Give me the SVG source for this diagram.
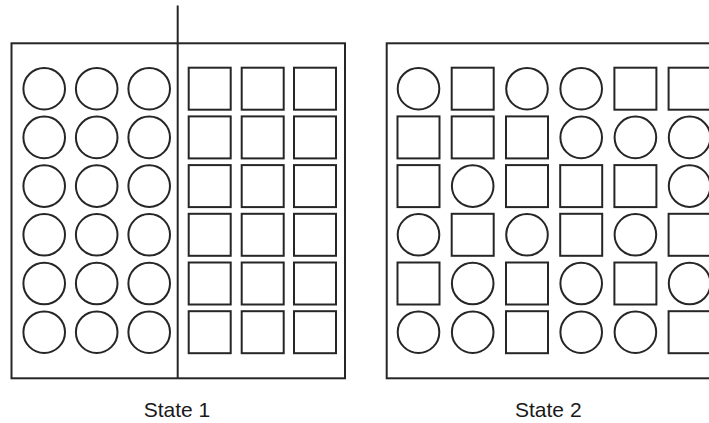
<svg xmlns="http://www.w3.org/2000/svg" width="709" height="423" viewBox="0 0 709 423">
<defs>
<style>
.box{fill:none;stroke:#262626;stroke-width:2}
.c{fill:#fff;stroke:#262626;stroke-width:2}
.s{fill:#fff;stroke:#262626;stroke-width:2}
.lbl{font-family:"Liberation Sans",Arial,sans-serif;font-size:21px;fill:#1a1a1a;text-anchor:middle}
</style>
<circle id="C" r="20.8" class="c"/>
<rect id="S" x="-21" y="-21" width="42" height="42" class="s"/>
</defs>
<rect width="709" height="423" fill="#fff"/>
<g id="state1">
<rect class="box" x="11.5" y="43.3" width="333.5" height="335"/>
<g id="state1-circles">
<use href="#C" x="44.2" y="88.7"/><use href="#C" x="96.7" y="88.7"/><use href="#C" x="149.2" y="88.7"/>
<use href="#C" x="44.2" y="137.4"/><use href="#C" x="96.7" y="137.4"/><use href="#C" x="149.2" y="137.4"/>
<use href="#C" x="44.2" y="186.1"/><use href="#C" x="96.7" y="186.1"/><use href="#C" x="149.2" y="186.1"/>
<use href="#C" x="44.2" y="234.8"/><use href="#C" x="96.7" y="234.8"/><use href="#C" x="149.2" y="234.8"/>
<use href="#C" x="44.2" y="283.5"/><use href="#C" x="96.7" y="283.5"/><use href="#C" x="149.2" y="283.5"/>
<use href="#C" x="44.2" y="332.2"/><use href="#C" x="96.7" y="332.2"/><use href="#C" x="149.2" y="332.2"/>
</g>
<g id="state1-squares">
<use href="#S" x="209.7" y="88.7"/><use href="#S" x="262.7" y="88.7"/><use href="#S" x="315" y="88.7"/>
<use href="#S" x="209.7" y="137.4"/><use href="#S" x="262.7" y="137.4"/><use href="#S" x="315" y="137.4"/>
<use href="#S" x="209.7" y="186.1"/><use href="#S" x="262.7" y="186.1"/><use href="#S" x="315" y="186.1"/>
<use href="#S" x="209.7" y="234.8"/><use href="#S" x="262.7" y="234.8"/><use href="#S" x="315" y="234.8"/>
<use href="#S" x="209.7" y="283.5"/><use href="#S" x="262.7" y="283.5"/><use href="#S" x="315" y="283.5"/>
<use href="#S" x="209.7" y="332.2"/><use href="#S" x="262.7" y="332.2"/><use href="#S" x="315" y="332.2"/>
</g>
<line class="box" x1="177.7" y1="5.5" x2="177.7" y2="378.3"/>
<text class="lbl" x="177" y="416.5">State 1</text>
</g>
<g id="state2">
<rect class="box" x="386.7" y="43.3" width="340" height="335"/>
<g id="state2-r1">
<use href="#C" x="418.5" y="88.7"/><use href="#S" x="472.7" y="88.7"/><use href="#C" x="527" y="88.7"/><use href="#C" x="581.2" y="88.7"/><use href="#S" x="635.4" y="88.7"/><use href="#S" x="689.6" y="88.7"/>
</g>
<g id="state2-r2">
<use href="#S" x="418.5" y="137.4"/><use href="#S" x="472.7" y="137.4"/><use href="#S" x="527" y="137.4"/><use href="#C" x="581.2" y="137.4"/><use href="#C" x="635.4" y="137.4"/><use href="#C" x="689.6" y="137.4"/>
</g>
<g id="state2-r3">
<use href="#S" x="418.5" y="186.1"/><use href="#C" x="472.7" y="186.1"/><use href="#S" x="527" y="186.1"/><use href="#S" x="581.2" y="186.1"/><use href="#S" x="635.4" y="186.1"/><use href="#C" x="689.6" y="186.1"/>
</g>
<g id="state2-r4">
<use href="#C" x="418.5" y="234.8"/><use href="#S" x="472.7" y="234.8"/><use href="#C" x="527" y="234.8"/><use href="#S" x="581.2" y="234.8"/><use href="#C" x="635.4" y="234.8"/><use href="#S" x="689.6" y="234.8"/>
</g>
<g id="state2-r5">
<use href="#S" x="418.5" y="283.5"/><use href="#C" x="472.7" y="283.5"/><use href="#S" x="527" y="283.5"/><use href="#C" x="581.2" y="283.5"/><use href="#S" x="635.4" y="283.5"/><use href="#C" x="689.6" y="283.5"/>
</g>
<g id="state2-r6">
<use href="#C" x="418.5" y="332.2"/><use href="#C" x="472.7" y="332.2"/><use href="#S" x="527" y="332.2"/><use href="#C" x="581.2" y="332.2"/><use href="#C" x="635.4" y="332.2"/><use href="#S" x="689.6" y="332.2"/>
</g>
<text class="lbl" x="548.3" y="416.5">State 2</text>
</g>
</svg>
